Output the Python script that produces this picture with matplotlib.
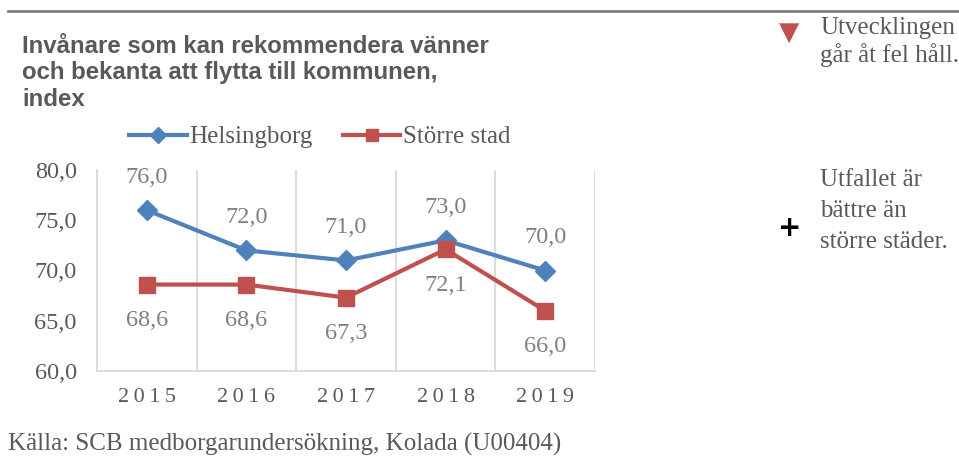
import matplotlib.pyplot as plt
from matplotlib.lines import Line2D

# Data
years = ['2015', '2016', '2017', '2018', '2019']
helsingborg = [76.0, 72.0, 71.0, 73.0, 70.0]
storre_stad = [68.6, 68.6, 67.3, 72.1, 66.0]
y_ticks = [60, 65, 70, 75, 80]

blue = '#4F81BD'
red = '#C0504D'
dark = '#595959'
light = '#7F7F7F'
serif = ['Liberation Serif', 'DejaVu Serif']

fig = plt.figure(figsize=(9.59, 4.59), dpi=100)
ax = fig.add_axes([97 / 959, 1 - 371 / 459, 498 / 959, 201 / 459])

x = list(range(len(years)))
ax.plot(x, helsingborg, color=blue, lw=3, marker='D', ms=10, zorder=3)
ax.plot(x, storre_stad, color=red, lw=3, marker='s', ms=11, zorder=3)

# data labels
for i, v in enumerate(helsingborg):
    ax.annotate(f'{v:.1f}'.replace('.', ','), (i, v), xytext=(0, 33),
                textcoords='offset pixels', ha='center', va='center',
                fontsize=17.5, color=light, family=serif)
for i, v in enumerate(storre_stad):
    ax.annotate(f'{v:.1f}'.replace('.', ','), (i, v), xytext=(0, -36),
                textcoords='offset pixels', ha='center', va='center',
                fontsize=17.5, color=light, family=serif)

ax.set_xlim(-0.5, len(years) - 0.5)
ax.set_ylim(60, 80)
ax.set_yticks(y_ticks)
ax.set_yticklabels([f'{t:.1f}'.replace('.', ',') for t in y_ticks],
                   fontsize=17.5, color=dark, family=serif)
ax.set_xticks(x)
ax.set_xticklabels(['\u2009'.join(y) for y in years], fontsize=16,
                   color=dark, family=serif)
ax.tick_params(axis='both', length=0)
ax.tick_params(axis='x', pad=12)
ax.tick_params(axis='y', pad=14.5)

# vertical category gridlines
for b in [i + 0.5 for i in range(len(years))]:
    ax.axvline(b, color='#D9D9D9', lw=1.3, zorder=1)
for s in ['top', 'right']:
    ax.spines[s].set_visible(False)
ax.spines['left'].set_color('#D9D9D9')
ax.spines['left'].set_linewidth(1.3)
ax.spines['bottom'].set_color('#D9D9D9')
ax.spines['bottom'].set_linewidth(1.3)

# legend
handles = [Line2D([], [], color=blue, lw=3, marker='D', ms=8),
           Line2D([], [], color=red, lw=3, marker='s', ms=9)]
fig.legend(handles, ['Helsingborg', 'Större stad'], loc='center',
           bbox_to_anchor=(320 / 959, 1 - 137 / 459), ncol=2, frameon=False,
           handlelength=2.3, handletextpad=0.12, columnspacing=1.2,
           prop={'family': serif, 'size': 18}, labelcolor=dark)

# title
fig.text(22 / 959, 1 - 35 / 459,
         'Invånare som kan rekommendera vänner\noch bekanta att flytta till kommunen,\nindex',
         ha='left', va='top', fontsize=17.3, fontweight='bold', color=dark,
         family='Liberation Sans', linespacing=1.19)

# top rule
fig.add_artist(Line2D([8 / 959, 1], [1 - 11 / 459, 1 - 11 / 459],
                      color='#808080', lw=2))

# right side notes
fig.text(789 / 959, 1 - 33 / 459, '▼', ha='center', va='center',
         fontsize=19, color=red, family='DejaVu Sans')
fig.text(820 / 959, 1 - 42 / 459, 'Utvecklingen\ngår åt fel håll.',
         ha='left', va='center', fontsize=18, color=dark, family=serif,
         linespacing=1.25)
fig.text(790 / 959, 1 - 228 / 459, '+', ha='center', va='center',
         fontsize=20, fontweight='bold', color='black', family='DejaVu Sans')
fig.text(820 / 959, 1 - 211 / 459, 'Utfallet är\nbättre än\nstörre städer.',
         ha='left', va='center', fontsize=18, color=dark, family=serif,
         linespacing=1.5)

# source
fig.text(8 / 959, 1 - 444 / 459,
         'Källa: SCB medborgarundersökning, Kolada (U00404)',
         ha='left', va='center', fontsize=18, color=dark, family=serif)

fig.savefig('out.png', dpi=100)
